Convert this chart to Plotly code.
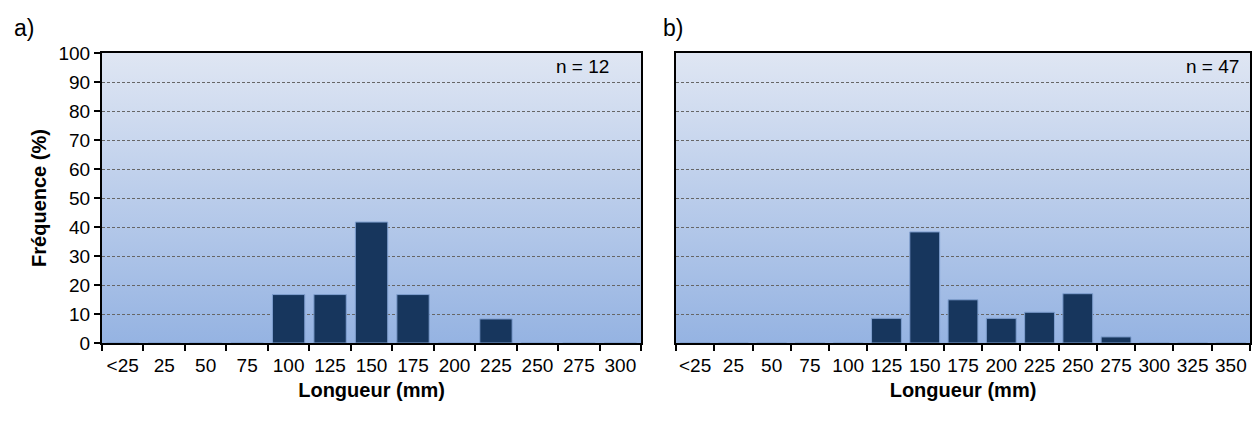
import base64
import plotly.graph_objects as go

# ---- data ----
cats_a = ["<25", "25", "50", "75", "100", "125", "150", "175", "200", "225", "250", "275", "300"]
freq_a = [0, 0, 0, 0, 16.7, 16.7, 41.7, 16.7, 0, 8.3, 0, 0, 0]
cats_b = ["<25", "25", "50", "75", "100", "125", "150", "175", "200", "225", "250", "275", "300", "325", "350"]
freq_b = [0, 0, 0, 0, 0, 8.5, 38.3, 14.9, 8.5, 10.6, 17.0, 2.1, 0, 0, 0]
y_ticks = [0, 10, 20, 30, 40, 50, 60, 70, 80, 90, 100]
n_a = "n = 12"
n_b = "n = 47"

FONT = "Liberation Sans, Arial, sans-serif"
BAR = "#17365d"
BAR_LINE = "#7f9fcf"

svg = ('<svg xmlns="http://www.w3.org/2000/svg" width="10" height="100" preserveAspectRatio="none">'
       '<defs><linearGradient id="g" x1="0" y1="0" x2="0" y2="1">'
       '<stop offset="0" stop-color="#dfe6f3"/><stop offset="1" stop-color="#95b3e2"/>'
       '</linearGradient></defs><rect width="10" height="100" fill="url(#g)"/></svg>')
grad_src = "data:image/svg+xml;base64," + base64.b64encode(svg.encode()).decode()

fig = go.Figure()
fig.add_trace(go.Bar(x=cats_a, y=freq_a, xaxis="x", yaxis="y",
                     marker=dict(color=BAR, line=dict(color=BAR_LINE, width=1)),
                     showlegend=False, hoverinfo="x+y"))
fig.add_trace(go.Bar(x=cats_b, y=freq_b, xaxis="x2", yaxis="y2",
                     marker=dict(color=BAR, line=dict(color=BAR_LINE, width=1)),
                     showlegend=False, hoverinfo="x+y"))

xcommon = dict(type="category", showline=True, linecolor="black", linewidth=2, mirror=True,
               ticks="outside", tickson="boundaries", ticklen=6, tickwidth=1.5, tickcolor="black",
               tickangle=0, ticklabelstandoff=4,
               showgrid=False, tickfont=dict(family=FONT, size=19, color="black"),
               title=dict(text="<b>Longueur (mm)</b>", font=dict(family=FONT, size=20, color="black"),
                          standoff=8),
               zeroline=False, fixedrange=True)
ycommon = dict(range=[0, 100], tickvals=y_ticks, showline=True, linecolor="black", linewidth=2,
               mirror=True, showgrid=True, gridcolor="#666666", gridwidth=1, griddash="3px,2px",
               zeroline=False, fixedrange=True,
               tickfont=dict(family=FONT, size=19, color="black"))

fig.update_layout(
    width=1254, height=425,
    margin=dict(l=102, r=2, t=53, b=82),
    paper_bgcolor="white", plot_bgcolor="rgba(0,0,0,0)",
    bargap=0.22,
    xaxis=dict(domain=[0, 0.4696], anchor="y", **xcommon),
    xaxis2=dict(domain=[0.5, 1.0], anchor="y2", **xcommon),
    yaxis=dict(domain=[0, 1], anchor="x", ticks="outside", ticklen=6, tickwidth=1.5, tickcolor="black",
               title=dict(text="<b>Fréquence (%)</b>", font=dict(family=FONT, size=20, color="black"),
                          standoff=6), **ycommon),
    yaxis2=dict(domain=[0, 1], anchor="x2", showticklabels=False, ticks="", **ycommon),
    images=[
        dict(source=grad_src, xref="x domain", yref="y domain", x=0, y=1, sizex=1, sizey=1,
             sizing="stretch", layer="below", xanchor="left", yanchor="top"),
        dict(source=grad_src, xref="x2 domain", yref="y2 domain", x=0, y=1, sizex=1, sizey=1,
             sizing="stretch", layer="below", xanchor="left", yanchor="top"),
    ],
    annotations=[
        dict(text="a)", xref="paper", yref="paper", x=-0.078, y=1.035, xanchor="left", yanchor="bottom",
             showarrow=False, font=dict(family=FONT, size=23, color="black")),
        dict(text="b)", xref="paper", yref="paper", x=0.487, y=1.035, xanchor="left", yanchor="bottom",
             showarrow=False, font=dict(family=FONT, size=23, color="black")),
        dict(text=n_a, xref="x domain", yref="y domain", x=0.945, y=0.995, xanchor="right", yanchor="top",
             showarrow=False, font=dict(family=FONT, size=19, color="black")),
        dict(text=n_b, xref="x2 domain", yref="y2 domain", x=0.985, y=0.995, xanchor="right", yanchor="top",
             showarrow=False, font=dict(family=FONT, size=19, color="black")),
    ],
)

fig.write_html("out.html")
